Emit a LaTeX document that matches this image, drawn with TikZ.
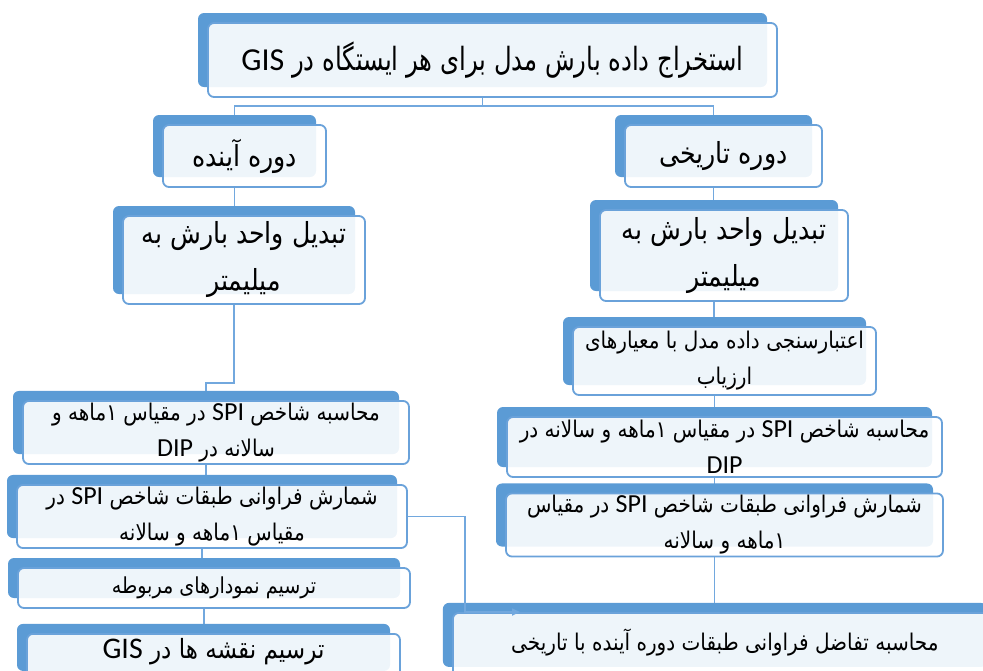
\documentclass[tikz,border=0pt]{standalone}
\usepackage{fontspec}
\setmainfont{Carlito}
\newfontfamily\latinfont{Carlito}[Scale=1.13]
\newfontfamily\arabicfont[Script=Arabic,FakeStretch=0.87]{DejaVu Sans}
\newfontfamily\arabictitle[Script=Arabic,FakeStretch=0.76]{DejaVu Sans}
\TeXXeTstate=1
\usetikzlibrary{shadows,arrows.meta,backgrounds}
\definecolor{backblue}{HTML}{5B9BD5}
\definecolor{edgeblue}{HTML}{6AA2DA}
\definecolor{linkblue}{HTML}{72A8DE}
\newcommand{\fa}[1]{{\arabicfont\beginR #1\endR}}
\newcommand{\fatitle}[1]{{\arabictitle\beginR #1\endR}}
\newcommand{\en}[1]{\beginL{\latinfont #1}\endL{}}

\begin{document}
\begin{tikzpicture}[x=1pt, y=-1pt,
    box/.style={draw=edgeblue, line width=1.8pt, rounded corners=6pt, fill=white, fill opacity=0.9, text opacity=1,
        inner sep=2pt, align=center, general shadow={fill=backblue, fill opacity=1, shadow xshift=-10pt, shadow yshift=10pt}},
    big/.style={font=\fontsize{32}{40}\selectfont},
    mid/.style={font=\fontsize{29}{47}\selectfont},
    small/.style={font=\fontsize{23}{36}\selectfont},
    link/.style={draw=linkblue, line width=1.6pt}]
    \useasboundingbox (0,0) rectangle (983,670);
    \clip (0,0) rectangle (983,670);

    \node[box, big, minimum width=569pt, minimum height=74pt] (top) at (492.5,60) {\fatitle{استخراج داده بارش مدل برای هر ایستگاه در \beginL{\rmfamily GIS}\endL{}}};

    \node[box, mid, minimum width=163pt, minimum height=62pt] (fut) at (244.5,156) {\fa{دوره آینده}};
    \node[box, mid, minimum width=197pt, minimum height=62pt] (hist) at (723.5,156) {\fa{دوره تاریخی}};

    \node[box, mid, minimum width=242pt, minimum height=88pt] (tabL) at (244,260) {\fa{تبدیل واحد بارش به}\\\fa{میلیمتر}};
    \node[box, mid, minimum width=248pt, minimum height=91pt] (tabR) at (724,255.5) {\fa{تبدیل واحد بارش به}\\\fa{میلیمتر}};

    \node[box, small, minimum width=303pt, minimum height=68pt] (valR) at (724.5,361) {\fa{اعتبارسنجی داده مدل با معیارهای}\\\fa{ارزیاب}};
    \node[box, small, minimum width=435pt, minimum height=60pt] (spiR) at (724.5,447) {\fa{محاسبه شاخص \en{SPI} در مقیاس ۱ماهه و سالانه در}\\\en{DIP}};
    \node[box, small, minimum width=437pt, minimum height=62pt] (cntR) at (724.5,525) {\fa{شمارش فراوانی طبقات شاخص \en{SPI} در مقیاس}\\\fa{۱ماهه و سالانه}};
    \node[box, small, minimum width=544pt, text height=36pt, text depth=24pt, anchor=north west] (diff) at (452,612) {\fa{محاسبه تفاضل فراوانی طبقات دوره آینده با تاریخی}};

    \node[box, small, minimum width=386pt, minimum height=63pt] (spiL) at (216,432.5) {\fa{محاسبه شاخص \en{SPI} در مقیاس ۱ماهه و}\\\fa{سالانه در \en{DIP}}};
    \node[box, small, minimum width=390pt, minimum height=61pt] (cntL) at (212,516.5) {\fa{شمارش فراوانی طبقات شاخص \en{SPI} در}\\\fa{مقیاس ۱ماهه و سالانه}};
    \node[box, font=\fontsize{22}{36}\selectfont, minimum width=392pt, minimum height=40pt] (plotL) at (214,588) {\fa{ترسیم نمودارهای مربوطه}};
    \node[box, font=\fontsize{26.5}{40}\selectfont, minimum width=373pt, text height=23pt, text depth=20pt, anchor=north] (gisL) at (213.5,633) {\fa{ترسیم نقشه ها در \en{GIS}}};

    \begin{scope}[on background layer]
    \draw[link] ([xshift=-10pt]top.south) -- ++(0,8) -| ([xshift=-10pt]fut.north);
    \draw[link] ([xshift=-10pt]top.south) -- ++(0,8) -| ([xshift=-10pt]hist.north);
    \draw[link] ([xshift=-10pt]fut.south) -- ([xshift=-10pt]fut.south |- tabL.north);
    \draw[link] ([xshift=-10pt]hist.south) -- ([xshift=-10pt]hist.south |- tabR.north);
    \draw[link] ([xshift=-10pt]tabL.south) -- ++(0,78) -| ([xshift=-10pt]spiL.north);
    \draw[link] ([xshift=-10pt]tabR.south) -- ([xshift=-10pt]tabR.south |- valR.north);
    \draw[link] ([xshift=-10pt]valR.south) -- ([xshift=-10pt]valR.south |- spiR.north);
    \draw[link] ([xshift=-10pt]spiR.south) -- ([xshift=-10pt]spiR.south |- cntR.north);
    \draw[link] ([xshift=-10pt]cntR.south) -- ([xshift=-10pt]cntR.south |- diff.north);
    \draw[link] ([xshift=-10pt]spiL.south) -- ([xshift=-10pt]spiL.south |- cntL.north);
    \draw[link] ([xshift=-10pt]cntL.south) -- ([xshift=-10pt]cntL.south |- plotL.north);
    \draw[link] ([xshift=-10pt]plotL.south) -- ([xshift=-10pt]plotL.south |- gisL.north);
    \end{scope}
    \draw[link, -{Triangle[width=7pt,length=8pt]}] (cntL.east) -- ++(57,0) |- ([xshift=68pt]diff.north west);
\end{tikzpicture}
\end{document}
